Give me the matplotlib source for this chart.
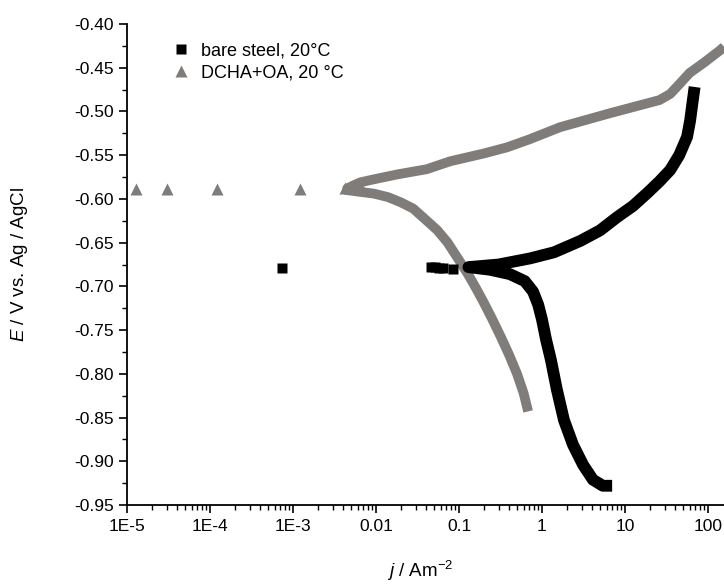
import numpy as np
import matplotlib
matplotlib.use("Agg")
import matplotlib.pyplot as plt
from matplotlib.lines import Line2D
from matplotlib.ticker import FixedLocator, LogLocator, NullFormatter, MultipleLocator, FormatStrFormatter

plt.rcParams['font.family'] = ['Liberation Sans', 'DejaVu Sans']
plt.rcParams['mathtext.fontset'] = 'custom'
plt.rcParams['mathtext.rm'] = 'Liberation Sans'
plt.rcParams['mathtext.it'] = 'Liberation Sans:italic'

# bare steel, 20 C : polarisation curve (cathodic end -> Ecorr -> anodic end)
steel_j = [7.0, 5.4, 4.1, 3.12, 2.36, 1.84, 1.51, 1.28, 1.12, 1.0, 0.90, 0.78, 0.62, 0.41, 0.236, 0.13,
           0.3, 0.72, 1.4, 2.9, 5.0, 8.0, 12.5, 18.7, 26, 35, 45, 56, 61, 65, 69]
steel_E = [-0.928, -0.928, -0.921, -0.904, -0.881, -0.853, -0.818, -0.784, -0.761, -0.738, -0.721,
           -0.706, -0.694, -0.686, -0.681, -0.678,
           -0.675, -0.668, -0.661, -0.648, -0.636, -0.621, -0.608, -0.593, -0.580, -0.567,
           -0.550, -0.529, -0.510, -0.490, -0.472]
# scattered points around the zero crossing of the current
steel_pts_j = [7.4e-4, 0.046, 0.052, 0.058, 0.065, 0.085]
steel_pts_E = [-0.679, -0.678, -0.678, -0.679, -0.679, -0.680]

# DCHA+OA, 20 C
dcha_j = [0.68, 0.6, 0.5, 0.4, 0.32, 0.25, 0.2, 0.16, 0.13, 0.10, 0.073, 0.055, 0.041, 0.028, 0.02,
          0.014, 0.0095, 0.0065, 0.0045,
          0.0045, 0.0055, 0.0065, 0.009, 0.018, 0.041, 0.078, 0.2, 0.38, 0.7, 1.65, 6.6, 26,
          35, 45, 60, 90, 140, 156]
dcha_E = [-0.843, -0.822, -0.800, -0.778, -0.758, -0.737, -0.719, -0.702, -0.687, -0.670, -0.650,
          -0.636, -0.625, -0.611, -0.604, -0.598, -0.594, -0.592, -0.590,
          -0.588, -0.584, -0.581, -0.578, -0.572, -0.566, -0.557, -0.548, -0.541, -0.532,
          -0.518, -0.502, -0.487, -0.480, -0.469, -0.456, -0.444, -0.430, -0.426]
dcha_pts_j = [1.3e-5, 3e-5, 1.2e-4, 1.2e-3, 0.0042, 0.0047, 0.0052, 0.0058, 0.0065]
dcha_pts_E = [-0.589, -0.589, -0.589, -0.589, -0.588, -0.587, -0.586, -0.585, -0.584]

x_ticks = [1e-5, 1e-4, 1e-3, 1e-2, 1e-1, 1, 10, 100]
x_tick_labels = ['1E-5', '1E-4', '1E-3', '0.01', '0.1', '1', '10', '100']

GREY = '#7f7c7a'

fig = plt.figure(figsize=(7.24, 5.87), dpi=100)
ax = fig.add_axes([127 / 724, 82 / 587, 597 / 724, 481 / 587])

ax.plot(dcha_j, dcha_E, color=GREY, lw=7, solid_capstyle='butt', solid_joinstyle='round')
ax.plot(dcha_pts_j, dcha_pts_E, ls='none', marker='^', ms=9, color=GREY, mec='none')
ax.plot(steel_j, steel_E, color='black', lw=8.5, solid_capstyle='butt', solid_joinstyle='round')
ax.plot(steel_pts_j, steel_pts_E, ls='none', marker='s', ms=7, color='black', mec='none')

ax.set_xscale('log')
ax.set_xlim(1e-5, 10 ** (-5 + 597 / 83))
ax.set_ylim(-0.95, -0.40)

ax.xaxis.set_major_locator(FixedLocator(x_ticks))
ax.set_xticklabels(x_tick_labels)
ax.xaxis.set_minor_locator(LogLocator(base=10, subs=np.arange(2, 10), numticks=20))
ax.xaxis.set_minor_formatter(NullFormatter())
ax.yaxis.set_major_locator(MultipleLocator(0.05))
ax.yaxis.set_minor_locator(MultipleLocator(0.025))
ax.yaxis.set_major_formatter(FormatStrFormatter('%.2f'))

for side in ['top', 'right']:
    ax.spines[side].set_visible(False)
for side in ['left', 'bottom']:
    ax.spines[side].set_linewidth(1.3)
ax.tick_params(which='major', direction='out', length=6, width=1.2, labelsize=12.5, colors='black')
ax.tick_params(which='minor', direction='out', length=3.5, width=1.0)
ax.tick_params(axis='x', which='major', pad=4)

ax.set_xlabel('$j$ / Am$^{-2}$', fontsize=13.5)
ax.set_ylabel('$E$ / V vs. Ag / AgCl', fontsize=13.5)
ax.xaxis.set_label_coords((420 - 127) / 597, (505 - 559) / 481)
ax.yaxis.set_label_coords((30 - 127) / 597, 0.5)

handles = [Line2D([], [], ls='none', marker='s', ms=7, color='black', mec='none'),
           Line2D([], [], ls='none', marker='^', ms=9, color=GREY, mec='none')]
ax.legend(handles, ['bare steel, 20°C', 'DCHA+OA, 20 °C'], loc='upper left',
          bbox_to_anchor=((165 - 127) / 597, (505 - 35) / 481), frameon=False,
          handlelength=1.0, handletextpad=0.6, labelspacing=0.3, borderaxespad=0,
          fontsize=13)

fig.savefig('out.png', dpi=100)
